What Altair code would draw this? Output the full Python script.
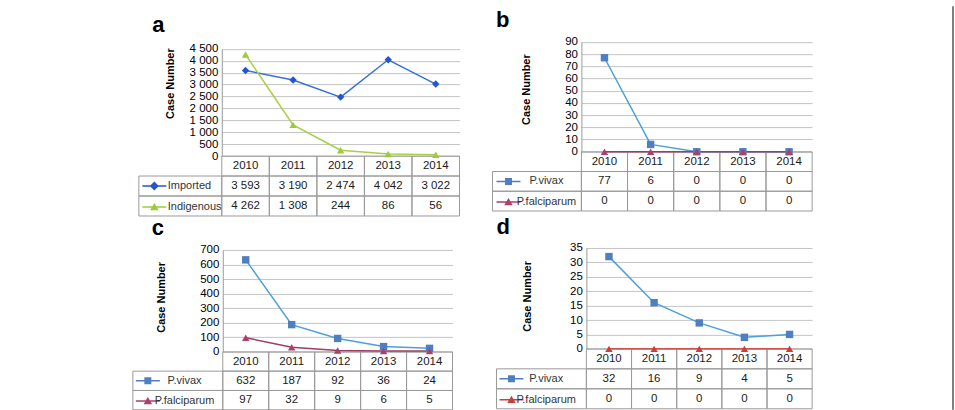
import altair as alt
import pandas as pd

# ---------------- data ----------------
years = ["2010", "2011", "2012", "2013", "2014"]

a_names = ["Imported", "Indigenous"]
a_imported = [3593, 3190, 2474, 4042, 3022]
a_indigenous = [4262, 1308, 244, 86, 56]
a_ticks = [0, 500, 1000, 1500, 2000, 2500, 3000, 3500, 4000, 4500]

pv_names = ["P.vivax", "P.falciparum"]

b_vivax = [77, 6, 0, 0, 0]
b_falciparum = [0, 0, 0, 0, 0]
b_ticks = [0, 10, 20, 30, 40, 50, 60, 70, 80, 90]

c_vivax = [632, 187, 92, 36, 24]
c_falciparum = [97, 32, 9, 6, 5]
c_ticks = [0, 100, 200, 300, 400, 500, 600, 700]

d_vivax = [32, 16, 9, 4, 5]
d_falciparum = [0, 0, 0, 0, 0]
d_ticks = [0, 5, 10, 15, 20, 25, 30, 35]

# ---------------- style ----------------
FONT = "Liberation Sans"
GRID = "#c4c4c4"
TB = "#9a9a9a"
TXT = "#1a1a1a"
HDR = "year"

LINE_SEG = "M-2.4,-0.15H2.4V0.15H-2.4Z"
G_DIAMOND = LINE_SEG + "M0,-0.9L0.9,0L0,0.9L-0.9,0Z"
G_TRIANGLE = LINE_SEG + "M0,-0.8L0.85,0.65H-0.85Z"
G_SQUARE = LINE_SEG + "M-0.7,-0.7H0.7V0.7H-0.7Z"


def panel(letter, names, series_vals, line_cols, mark_cols, shapes, glyphs,
          ymax, ticks, g):
    long = pd.DataFrame(
        [{"year": y, "series": n, "value": v}
         for n, vals in zip(names, series_vals) for y, v in zip(years, vals)])
    hdr = pd.DataFrame({"year": years, "row": HDR})
    cells = pd.concat(
        [hdr, long.rename(columns={"series": "row"})[["year", "row"]]],
        ignore_index=True)
    labs = pd.DataFrame({"row": names, "col": "lab"})

    xband = alt.Scale(type="band", domain=years, range=[g["px0"], g["px1"]],
                      paddingInner=0, paddingOuter=0)
    xpt = alt.Scale(type="point", domain=years, range=[g["px0"], g["px1"]],
                    padding=0.5)
    yrow = alt.Scale(type="band", domain=[HDR] + names,
                     range=[g["tb0"], g["tb1"]], paddingInner=0, paddingOuter=0)
    yval = alt.Scale(domain=[0, ymax], range=[g["pb"], g["pt"]], nice=False,
                     zero=True)
    xlab = alt.Scale(type="band", domain=["lab"], range=[g["lx0"], g["px0"]],
                     paddingInner=0, paddingOuter=0)
    lcol = alt.Scale(domain=names, range=line_cols)
    mcol = alt.Scale(domain=names, range=mark_cols)
    shp = alt.Scale(domain=names, range=shapes)
    gsh = alt.Scale(domain=names, range=glyphs)

    cell_rect = alt.Chart(cells).mark_rect(
        fill="white", fillOpacity=0, stroke=TB, strokeWidth=1).encode(
        x=alt.X("year:N", scale=xband, axis=None),
        y=alt.Y("row:N", scale=yrow, axis=None))

    lab_rect = alt.Chart(labs).mark_rect(
        fill="white", fillOpacity=0, stroke=TB, strokeWidth=1).encode(
        x=alt.X("col:N", scale=xlab, axis=None),
        y=alt.Y("row:N", scale=yrow, axis=None))

    hdr_txt = alt.Chart(hdr).mark_text(fontSize=11.5, color=TXT, font=FONT).encode(
        x=alt.X("year:N", scale=xband, axis=None),
        y=alt.Y("row:N", scale=yrow, axis=None),
        text="year:N")

    val_txt = alt.Chart(long).mark_text(fontSize=11.5, color=TXT, font=FONT).encode(
        x=alt.X("year:N", scale=xband, axis=None),
        y=alt.Y("series:N", scale=yrow, axis=None),
        text=alt.Text("value:Q", format=",d"))

    yaxis = alt.Axis(
        orient="left", values=ticks, format=",d", offset=-g["px0"],
        grid=True, gridColor=GRID, gridWidth=1, domain=True, domainColor=TB,
        domainWidth=1, ticks=False, labelPadding=4, labelFontSize=11.5,
        labelColor="black", labelFont=FONT,
        title="Case Number", titleFont=FONT, titleFontSize=11,
        titleFontWeight="bold", titleColor="black", titleAngle=270,
        titleAlign="center", titleBaseline="alphabetic",
        titleX=g["tx"], titleY=g["ty"])

    line = alt.Chart(long).mark_line(strokeWidth=1.5).encode(
        x=alt.X("year:O", scale=xpt, axis=None),
        y=alt.Y("value:Q", scale=yval, axis=yaxis),
        color=alt.Color("series:N", scale=lcol, legend=None))

    pts = alt.Chart(long).mark_point(filled=True, size=55, opacity=1).encode(
        x=alt.X("year:O", scale=xpt, axis=None),
        y=alt.Y("value:Q", scale=yval, axis=None),
        color=alt.Color("series:N", scale=mcol, legend=None),
        shape=alt.Shape("series:N", scale=shp, legend=None))

    leg_props = dict(
        orient="none", legendX=g["lgx"], legendY=g["lgy"], title=None,
        direction="vertical", symbolSize=100, symbolOpacity=1,
        symbolStrokeWidth=0, labelFontSize=11, labelFont=FONT,
        labelColor="#333333", labelAlign=g["lalign"],
        labelOffset=g["loff"], rowPadding=g["rowpad"], padding=0)

    leg = alt.Chart(long).mark_point(filled=True, size=100, opacity=0).encode(
        x=alt.X("year:O", scale=xpt, axis=None),
        y=alt.Y("value:Q", scale=yval, axis=None),
        color=alt.Color("series:N", scale=mcol, legend=alt.Legend(**leg_props)),
        shape=alt.Shape("series:N", scale=gsh, legend=alt.Legend(**leg_props)))

    return alt.layer(cell_rect, lab_rect, hdr_txt, val_txt, line, pts, leg).resolve_scale(
        x="independent", y="independent", color="independent",
        shape="independent").properties(
        width=g["W"], height=g["H"],
        title=alt.TitleParams(letter, anchor="start", dx=g["tdx"],
                              dy=g["tdy"], offset=0, fontSize=22, font=FONT,
                              fontWeight="bold", color="black",
                              baseline="alphabetic"))


ga = dict(W=327, H=175, lx0=6, px0=89, px1=327, pt=7.7, pb=115, tb0=115,
          tb1=175, tx=-48, ty=42, lgx=16, lgy=139.5, rowpad=9,
          lalign="left", loff=8, tdx=19.5, tdy=12.7)
gb = dict(W=320, H=175, lx0=0, px0=89, px1=320, pt=0.7, pb=110.7, tb0=110.7,
          tb1=170, tx=-52, ty=48, lgx=10.5, lgy=134.9, rowpad=8.7,
          lalign="center", loff=32.5, tdx=4, tdy=12.7)
gc = dict(W=327, H=162, lx0=0, px0=90, px1=320, pt=2, pb=104, tb0=104,
          tb1=162, tx=-58, ty=49, lgx=9.5, lgy=127.5, rowpad=8.3,
          lalign="center", loff=31.25, tdx=19.5, tdy=12.7)
gd = dict(W=320, H=162, lx0=4, px0=94, px1=320, pt=0, pb=101, tb0=101,
          tb1=161, tx=-56, ty=48, lgx=13.5, lgy=125.5, rowpad=9,
          lalign="center", loff=29.25, tdx=4, tdy=14)

pa = panel("a", a_names, [a_imported, a_indigenous],
           ["#3a6fd8", "#a8cf45"], ["#2355cf", "#9dcb3a"],
           ["diamond", "triangle-up"], [G_DIAMOND, G_TRIANGLE],
           4500, a_ticks, ga)
pb = panel("b", pv_names, [b_vivax, b_falciparum],
           ["#4a9fdc", "#9e3d64"], ["#4f7fc0", "#a8426a"],
           ["square", "triangle-up"], [G_SQUARE, G_TRIANGLE],
           90, b_ticks, gb)
pc = panel("c", pv_names, [c_vivax, c_falciparum],
           ["#4a9fdc", "#9e3d64"], ["#4f7fc0", "#a8426a"],
           ["square", "triangle-up"], [G_SQUARE, G_TRIANGLE],
           700, c_ticks, gc)
pdd = panel("d", pv_names, [d_vivax, d_falciparum],
            ["#4a9fdc", "#d0504d"], ["#4f7fc0", "#c8403d"],
            ["square", "triangle-up"], [G_SQUARE, G_TRIANGLE],
            35, d_ticks, gd)

# decorative outer frame (right edge of the figure box)
frame = alt.Chart(pd.DataFrame({"f": [0]})).mark_rule(
    color="#555555", strokeWidth=1.5).encode(
    x=alt.value(108), y=alt.value(-35), y2=alt.value(369)).properties(
    width=110, height=175)

chart = alt.concat(pa, pb, frame, pc, pdd, columns=3, align="each",
                   bounds="flush",
                   spacing=alt.RowColnumber(row=32, column=33)).properties(
    padding={"left": 132, "top": 5, "right": 0, "bottom": 0},
    background="white").configure(
    font=FONT,
    locale=alt.Locale(number=alt.NumberLocale(
        decimal=".", thousands=" ", grouping=[3], currency=["", ""]))
).configure_view(stroke=None)

chart.save("out.html", embed_options={"renderer": "svg", "actions": False})
